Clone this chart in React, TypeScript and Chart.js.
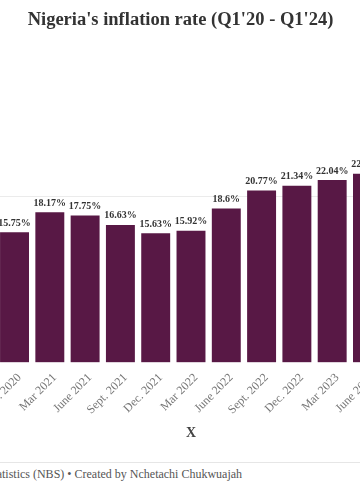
import React, { useEffect, useRef } from 'react';
import { Chart, registerables } from 'chart.js';

Chart.register(...registerables);

const categories: string[] = [
  'Mar 2020', 'June 2020', 'Sept. 2020', 'Dec. 2020',
  'Mar 2021', 'June 2021', 'Sept. 2021', 'Dec. 2021',
  'Mar 2022', 'June 2022', 'Sept. 2022', 'Dec. 2022',
  'Mar 2023', 'June 2023', 'Sept. 2023', 'Dec. 2023',
  'Mar 2024',
];

const inflationRate: number[] = [
  12.26, 12.56, 13.71, 15.75,
  18.17, 17.75, 16.63, 15.63,
  15.92, 18.6, 20.77, 21.34,
  22.04, 22.79, 26.72, 28.92,
  33.2,
];

const titleText = "Nigeria's inflation rate (Q1'20 - Q1'24)";
const xAxisTitle = 'X';
const footerText = 'Source: National Bureau of Statistics (NBS) \u2022 Created by Nchetachi Chukwuajah';

const SERIF = '"Liberation Serif", "Times New Roman", "DejaVu Serif", serif';
const BAR_COLOR = '#581845';

const CANVAS_W = 641;
const CANVAS_H = 460;
const OFFSET_X = -140;

const valueLabels = {
  id: 'valueLabels',
  afterDatasetsDraw(chart: any) {
    const { ctx } = chart;
    const meta = chart.getDatasetMeta(0);
    ctx.save();
    ctx.font = `bold 10px ${SERIF}`;
    ctx.fillStyle = '#333333';
    ctx.textAlign = 'center';
    ctx.textBaseline = 'bottom';
    meta.data.forEach((bar: any, i: number) => {
      ctx.fillText(`${inflationRate[i]}%`, bar.x, bar.y - 4);
    });
    ctx.restore();
  },
};

export default function App() {
  const canvasRef = useRef<HTMLCanvasElement | null>(null);

  useEffect(() => {
    if (!canvasRef.current) return;
    const chart = new Chart(canvasRef.current, {
      type: 'bar',
      data: {
        labels: categories,
        datasets: [
          {
            data: inflationRate,
            backgroundColor: BAR_COLOR,
            borderWidth: 0,
            barPercentage: 0.82,
            categoryPercentage: 1,
          },
        ],
      },
      options: {
        responsive: false,
        animation: false,
        layout: { padding: { left: 10, right: 10, top: 0, bottom: 14 } },
        plugins: {
          legend: { display: false },
          tooltip: { enabled: false },
          title: {
            display: true,
            text: titleText,
            color: '#333333',
            font: { family: SERIF, size: 18.5, weight: 'bold', lineHeight: 1.2 },
            padding: { top: 9, bottom: 0 },
          },
        },
        scales: {
          x: {
            grid: { display: false },
            border: { display: false },
            ticks: {
              color: '#777777',
              font: { family: SERIF, size: 12 },
              minRotation: 45,
              maxRotation: 45,
              autoSkip: false,
              padding: 0,
              labelOffset: 5,
            },
            title: {
              display: true,
              text: xAxisTitle,
              color: '#444444',
              font: { family: SERIF, size: 14, weight: 'bold' },
              padding: { top: 8, bottom: 4 },
            },
          },
          y: {
            display: true,
            min: 0,
            max: 40,
            ticks: { display: false, stepSize: 20 },
            border: { display: false },
            grid: {
              color: (c: any) => (c.tick && c.tick.value === 20 ? '#ebebeb' : 'rgba(0,0,0,0)'),
              drawTicks: false,
            },
            afterFit: (scale: any) => {
              scale.width = 21;
            },
          },
        },
      },
      plugins: [valueLabels],
    });
    return () => chart.destroy();
  }, []);

  return (
    <div
      style={{
        position: 'fixed',
        left: 0,
        top: 0,
        width: 360,
        height: 504,
        overflow: 'hidden',
        background: '#ffffff',
      }}
    >
      <div style={{ position: 'absolute', left: OFFSET_X, top: 0, width: CANVAS_W, height: CANVAS_H }}>
        <canvas ref={canvasRef} width={CANVAS_W} height={CANVAS_H} />
      </div>
      <div
        style={{
          position: 'absolute',
          left: OFFSET_X,
          top: 462,
          width: CANVAS_W,
          height: 1,
          background: '#e6e6e6',
        }}
      />
      <div
        style={{
          position: 'absolute',
          left: -148,
          top: 467,
          fontFamily: SERIF,
          fontSize: 12,
          color: '#555555',
          whiteSpace: 'nowrap',
        }}
      >
        {footerText}
      </div>
    </div>
  );
}
